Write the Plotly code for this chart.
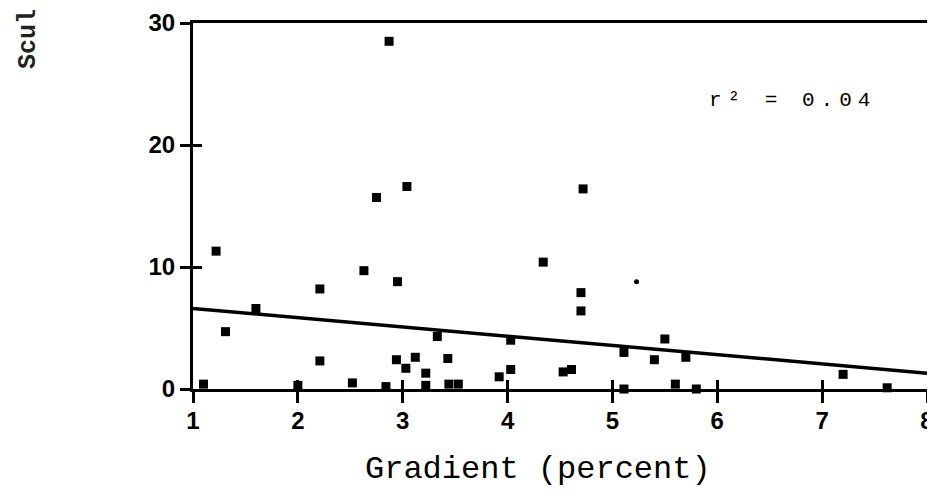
import plotly.graph_objects as go

# Scatter data
gradient = [1.10, 1.22, 1.31, 1.60, 2.00, 2.21, 2.21, 2.52, 2.63, 2.75,
            2.84, 2.87, 2.94, 2.95, 3.03, 3.04, 3.12, 3.22, 3.22, 3.33,
            3.43, 3.44, 3.53, 3.92, 4.03, 4.03, 4.34, 4.53, 4.61, 4.70,
            4.70, 4.72, 5.11, 5.11, 5.40, 5.50, 5.60, 5.70, 5.80, 7.20,
            7.62]
sculpin = [0.4, 11.3, 4.7, 6.6, 0.3, 8.2, 2.3, 0.5, 9.7, 15.7,
           0.2, 28.5, 2.4, 8.8, 1.7, 16.6, 2.6, 1.3, 0.3, 4.3,
           2.5, 0.4, 0.4, 1.0, 1.6, 4.0, 10.4, 1.4, 1.6, 7.9,
           6.4, 16.4, 3.0, 0.0, 2.4, 4.1, 0.4, 2.6, 0.0, 1.2,
           0.1]
small_x = [5.23]
small_y = [8.8]

# Regression line endpoints
reg_x = [1, 8]
reg_y = [6.6, 1.3]

x_ticks = [1, 2, 3, 4, 5, 6, 7, 8]
y_ticks = [0, 10, 20, 30]

fig = go.Figure()
fig.add_trace(go.Scatter(x=reg_x, y=reg_y, mode="lines",
                         line=dict(color="black", width=3.5),
                         showlegend=False, hoverinfo="skip"))
fig.add_trace(go.Scatter(x=gradient, y=sculpin, mode="markers",
                         marker=dict(symbol="square", size=9, color="black"),
                         cliponaxis=False, showlegend=False))
fig.add_trace(go.Scatter(x=small_x, y=small_y, mode="markers",
                         marker=dict(symbol="circle", size=5, color="black"),
                         cliponaxis=False, showlegend=False))
# empty trace to activate the overlay axes (inside tick halves)
fig.add_trace(go.Scatter(x=[], y=[], xaxis="x2", yaxis="y2",
                         showlegend=False, hoverinfo="skip"))

tickfont = dict(family="Liberation Sans, Arial", size=24, color="black")

# page body adds an 8px offset; figure sized to compensate
fig.update_layout(
    width=935, height=486,
    margin=dict(l=185, r=16, t=15, b=105),
    paper_bgcolor="white", plot_bgcolor="white",
    xaxis=dict(range=[1, 8], tickvals=x_ticks, showticklabels=False,
               showgrid=False, zeroline=False, showline=True, mirror=True,
               linecolor="black", linewidth=3, ticks="outside", ticklen=11,
               tickwidth=2.5, tickcolor="black", automargin=False),
    yaxis=dict(range=[0, 30], tickvals=y_ticks, ticktext=[f"<b>{v}</b>" for v in y_ticks],
               showgrid=False, zeroline=False, showline=True, mirror=True,
               linecolor="black", linewidth=3, ticks="outside", ticklen=10,
               tickwidth=2.5, tickcolor="black", tickfont=tickfont, automargin=False),
    xaxis2=dict(range=[1, 8], overlaying="x", tickvals=x_ticks,
                ticktext=[f"<b>{v}</b>" for v in x_ticks], tickfont=tickfont,
                ticklabelstandoff=15,
                showgrid=False, zeroline=False, showline=False, ticks="inside",
                ticklen=9, tickwidth=2.5, tickcolor="black", side="bottom", automargin=False),
    yaxis2=dict(range=[0, 30], overlaying="y", tickvals=y_ticks, showticklabels=False,
                showgrid=False, zeroline=False, showline=False, ticks="inside",
                ticklen=9, tickwidth=2.5, tickcolor="black", side="left", automargin=False),
    annotations=[
        dict(text="Gradient (percent)", xref="paper", yref="paper",
             x=(538 - 193) / 734, y=-(470 - 389) / 366, xanchor="center", yanchor="middle",
             showarrow=False,
             font=dict(family="Liberation Mono, Courier New", size=32, color="black")),
        dict(text='<span style="letter-spacing:6px">r² = 0.04</span>', xref="paper", yref="paper",
             x=(707 - 193) / 734, y=1 - (100 - 23) / 366, xanchor="left", yanchor="middle",
             showarrow=False,
             font=dict(family="Liberation Mono, Courier New", size=21, color="black")),
        dict(text="<b>Scul</b>", xref="paper", yref="paper", textangle=-90,
             x=-(193 - 28) / 734, y=1 - (39 - 23) / 366, xanchor="center", yanchor="middle",
             showarrow=False,
             font=dict(family="Liberation Mono, Courier New", size=25, color="#222222")),
    ],
)

fig.write_html("out.html")
